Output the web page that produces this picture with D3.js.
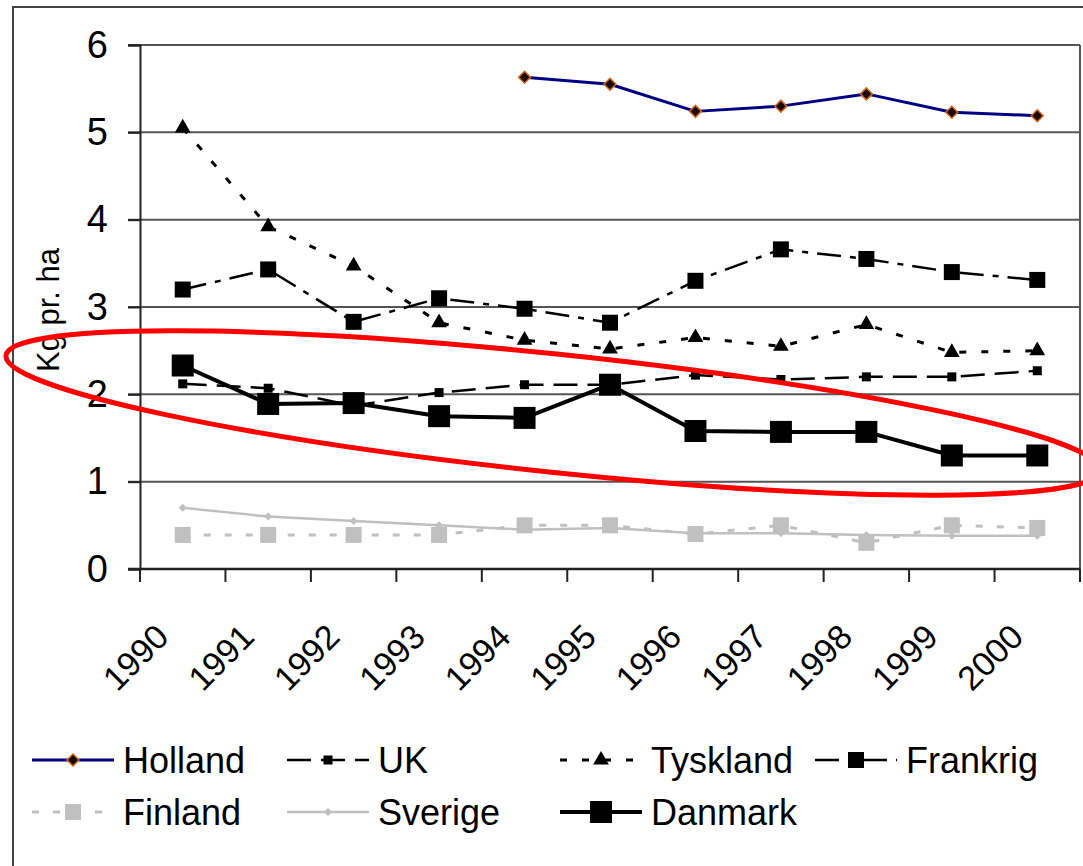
<!DOCTYPE html>
<html>
<head>
<meta charset="utf-8">
<script src="https://cdn.jsdelivr.net/npm/d3@7"></script>
<style>
  body { margin: 0; background: #fff; }
  svg text { font-family: "Liberation Sans", Arial, sans-serif; fill: #000; }
</style>
</head>
<body>
<svg width="1083" height="866"></svg>
<script>
// data (kg pr. ha)
var years    = ["1990","1991","1992","1993","1994","1995","1996","1997","1998","1999","2000"];
var holland  = [null, null, null, null, 5.63, 5.55, 5.24, 5.30, 5.44, 5.23, 5.19];
var uk       = [2.12, 2.07, 1.87, 2.02, 2.11, 2.11, 2.22, 2.17, 2.20, 2.20, 2.27];
var tyskland = [5.05, 3.92, 3.47, 2.82, 2.62, 2.52, 2.65, 2.55, 2.80, 2.48, 2.50];
var frankrig = [3.20, 3.43, 2.83, 3.10, 2.98, 2.82, 3.30, 3.66, 3.55, 3.40, 3.31];
var finland  = [0.39, 0.39, 0.39, 0.39, 0.50, 0.50, 0.40, 0.50, 0.30, 0.50, 0.47];
var sverige  = [0.70, 0.60, 0.55, 0.50, 0.45, 0.47, 0.41, 0.41, 0.39, 0.38, 0.38];
var danmark  = [2.33, 1.89, 1.90, 1.75, 1.73, 2.11, 1.58, 1.57, 1.57, 1.30, 1.30];
var yTicks   = [0, 1, 2, 3, 4, 5, 6];
var yTitle   = "Kg pr. ha";

var series = [
  { name: "Holland",  values: holland },
  { name: "UK",       values: uk },
  { name: "Tyskland", values: tyskland },
  { name: "Frankrig", values: frankrig },
  { name: "Finland",  values: finland },
  { name: "Sverige",  values: sverige },
  { name: "Danmark",  values: danmark }
];

// how each series looks
var styles = {
  Holland:  { stroke: "#000080", width: 3,   dash: null,        marker: "diamond",  size: 12, fill: "#1a0a05", mstroke: "#d2691e" },
  UK:       { stroke: "#000",    width: 2.5, dash: "24,10",     marker: "square",   size: 9,  fill: "#000",    mstroke: "none" },
  Tyskland: { stroke: "#000",    width: 3,   dash: "7,15",      marker: "triangle", size: 14, fill: "#000",    mstroke: "none" },
  Frankrig: { stroke: "#000",    width: 2.5, dash: "24,9,6,9",  marker: "square",   size: 16, fill: "#000",    mstroke: "none" },
  Finland:  { stroke: "#c0c0c0", width: 3,   dash: "7,14",      marker: "square",   size: 16, fill: "#c0c0c0", mstroke: "none" },
  Sverige:  { stroke: "#c0c0c0", width: 2.5, dash: null,        marker: "diamond",  size: 8,  fill: "#c0c0c0", mstroke: "none" },
  Danmark:  { stroke: "#000",    width: 4,   dash: null,        marker: "square",   size: 22, fill: "#000",    mstroke: "none" }
};

var svg = d3.select("svg"),
    width = +svg.attr("width"),
    height = +svg.attr("height");

var plotLeft = 140, plotRight = 1080, plotTop = 45, plotBottom = 569;

var x = d3.scaleBand().domain(years).range([plotLeft, plotRight]);
var y = d3.scaleLinear().domain([0, 6]).range([plotBottom, plotTop]);

function cx(i) { return x(years[i]) + x.bandwidth() / 2; }

// outer frame of the chart object
svg.append("path")
  .attr("d", "M13," + height + "V7H" + width)
  .attr("fill", "none")
  .attr("stroke", "#444")
  .attr("stroke-width", 2);

// gridlines
svg.append("g").selectAll("line")
  .data(yTicks.filter(function (d) { return d > 0; }))
  .enter().append("line")
    .attr("x1", plotLeft - 12)
    .attr("x2", plotRight)
    .attr("y1", function (d) { return y(d); })
    .attr("y2", function (d) { return y(d); })
    .attr("stroke", "#555")
    .attr("stroke-width", 2);

// right border of plot
svg.append("line")
  .attr("x1", plotRight).attr("x2", plotRight)
  .attr("y1", y(6)).attr("y2", y(0))
  .attr("stroke", "#555").attr("stroke-width", 2);

// y axis
var yAxis = svg.append("g")
  .attr("transform", "translate(" + plotLeft + ",0)")
  .call(d3.axisLeft(y).tickValues(yTicks).tickSize(12).tickPadding(20).tickFormat(d3.format("d")));
yAxis.select(".domain").attr("stroke", "#222").attr("stroke-width", 2);
yAxis.selectAll(".tick line").attr("stroke", "#222").attr("stroke-width", 2);
yAxis.selectAll(".tick text")
  .style("font-size", "38px")
  .style("font-family", "Liberation Sans, Arial, sans-serif")
  .attr("fill", "#000");

// x axis: ticks sit on the category boundaries
var xAxis = svg.append("g")
  .attr("transform", "translate(0," + plotBottom + ")")
  .call(d3.axisBottom(x).tickSize(0).tickPadding(0));
xAxis.select(".domain").remove();
xAxis.append("line")
  .attr("x1", plotLeft - 12).attr("x2", plotRight)
  .attr("stroke", "#222").attr("stroke-width", 2.5);
xAxis.selectAll(".bound")
  .data(years.concat(["end"]))
  .enter().append("line")
    .attr("class", "bound")
    .attr("x1", function (d) { return d === "end" ? plotRight : x(d); })
    .attr("x2", function (d) { return d === "end" ? plotRight : x(d); })
    .attr("y1", 0).attr("y2", 13)
    .attr("stroke", "#222").attr("stroke-width", 2);
xAxis.selectAll(".tick text")
  .style("font-size", "34px")
  .style("font-family", "Liberation Sans, Arial, sans-serif")
  .attr("fill", "#000")
  .attr("text-anchor", "end")
  .attr("dy", 0)
  .attr("y", 0)
  .attr("transform", "translate(-12,70) rotate(-45)");

// y title
svg.append("text")
  .attr("transform", "translate(59,310) rotate(-90)")
  .attr("text-anchor", "middle")
  .style("font-size", "31px")
  .text(yTitle);

// markers
function markerPath(type, size) {
  if (type === "triangle") return d3.symbol().type(d3.symbolTriangle).size(size * size * 0.55)();
  return d3.symbol().type(d3.symbolSquare).size(size * size)();
}
function markerRotate(type) { return type === "diamond" ? " rotate(45)" : ""; }
function markerSize(st) { return st.marker === "diamond" ? st.size / Math.SQRT2 : st.size; }

var line = d3.line()
  .defined(function (d) { return d != null; })
  .x(function (d, i) { return cx(i); })
  .y(function (d) { return y(d); });

var lines = svg.append("g").selectAll("g")
  .data(series)
  .enter().append("g");

lines.append("path")
  .attr("d", function (d) { return line(d.values); })
  .attr("fill", "none")
  .attr("stroke", function (d) { return styles[d.name].stroke; })
  .attr("stroke-width", function (d) { return styles[d.name].width; })
  .attr("stroke-dasharray", function (d) { return styles[d.name].dash; })
  .attr("stroke-linejoin", "round");

lines.each(function (s) {
  var st = styles[s.name];
  d3.select(this).selectAll(".m")
    .data(s.values.map(function (v, i) { return { v: v, i: i }; }).filter(function (p) { return p.v != null; }))
    .enter().append("path")
      .attr("class", "m")
      .attr("d", markerPath(st.marker, markerSize(st)))
      .attr("transform", function (p) { return "translate(" + cx(p.i) + "," + y(p.v) + ")" + markerRotate(st.marker); })
      .attr("fill", st.fill)
      .attr("stroke", st.mstroke)
      .attr("stroke-width", 1.5);
});

// legend, 4 columns by 2 rows
var legCols = [32, 287, 560, 815], legRows = [760, 812];
var legend = svg.append("g").selectAll("g")
  .data(series)
  .enter().append("g")
    .attr("transform", function (d, i) {
      return "translate(" + legCols[i < 4 ? i : i - 4] + "," + legRows[i < 4 ? 0 : 1] + ")";
    });

legend.append("line")
  .attr("x1", 0).attr("x2", 82)
  .attr("stroke", function (d) { return styles[d.name].stroke; })
  .attr("stroke-width", function (d) { return styles[d.name].width; })
  .attr("stroke-dasharray", function (d) { return styles[d.name].dash; });

legend.append("path")
  .attr("d", function (d) { var st = styles[d.name]; return markerPath(st.marker, markerSize(st)); })
  .attr("transform", function (d) { return "translate(41,0)" + markerRotate(styles[d.name].marker); })
  .attr("fill", function (d) { return styles[d.name].fill; })
  .attr("stroke", function (d) { return styles[d.name].mstroke; })
  .attr("stroke-width", 1.5);

legend.append("text")
  .attr("x", 91)
  .attr("y", 13)
  .style("font-size", "36px")
  .text(function (d) { return d.name; });

// red highlight ellipse round the Danish series
svg.append("ellipse")
  .attr("cx", 553).attr("cy", 413)
  .attr("rx", 550).attr("ry", 59)
  .attr("transform", "rotate(6,553,413)")
  .attr("fill", "none")
  .attr("stroke", "#f00")
  .attr("stroke-width", 5);
</script>
</body>
</html>
